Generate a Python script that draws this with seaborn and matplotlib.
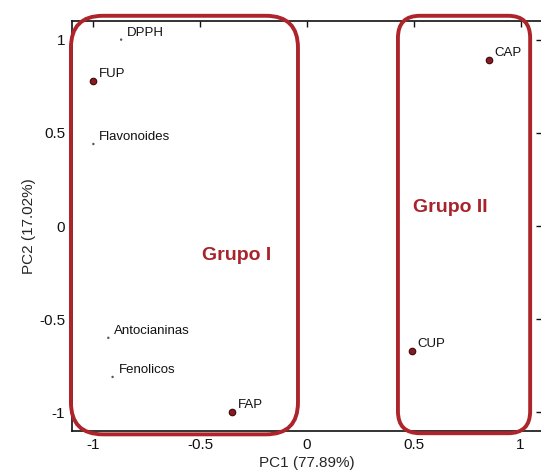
import matplotlib
matplotlib.use("Agg")
import matplotlib.pyplot as plt
from matplotlib.patches import FancyBboxPatch
from matplotlib.transforms import IdentityTransform
import seaborn as sns
import pandas as pd

# ---- data ----
names = ["DPPH", "FUP", "Flavonoides", "Antocianinas", "Fenolicos", "FAP", "CAP", "CUP"]
pc1 = [-0.87, -1.00, -1.00, -0.93, -0.91, -0.35, 0.85, 0.49]
pc2 = [1.00, 0.78, 0.44, -0.60, -0.81, -1.00, 0.89, -0.67]
kind = ["var", "obj", "var", "var", "var", "obj", "obj", "obj"]
ticks = [-1, -0.5, 0, 0.5, 1]
tick_labels = ["-1", "-0.5", "0", "0.5", "1"]
groups = ["Grupo I", "Grupo II"]
group_x = [(-1.105, -0.042), (0.426, 1.045)]
group_y = [(-1.118, 1.128), (-1.112, 1.128)]
group_label_pos = [(-0.33, -0.16), (0.67, 0.10)]

df = pd.DataFrame({"name": names, "pc1": pc1, "pc2": pc2, "kind": kind})

sns.set_style("white")
plt.rcParams["font.family"] = ["Liberation Sans", "DejaVu Sans"]

fig = plt.figure(figsize=(5.41, 4.70), dpi=100)
ax = fig.add_axes([72 / 541, 39 / 470, (541.9 - 72) / 541, (449 - 39) / 470])

sns.scatterplot(data=df[df.kind == "obj"], x="pc1", y="pc2", ax=ax, s=22,
                color="#8a1a1f", edgecolor="#3a0a0a", linewidth=0.8, legend=False, zorder=3)
sns.scatterplot(data=df[df.kind == "var"], x="pc1", y="pc2", ax=ax, s=3,
                color="#555555", edgecolor="none", legend=False, zorder=3)

for n, x, y in zip(names, pc1, pc2):
    ax.annotate(n, (x, y), xytext=(6, 7), textcoords="offset pixels",
                ha="left", va="center", fontsize=9.5, color="#111111")

ax.set_xlim(-1.1, 1.1)
ax.set_ylim(-1.1, 1.1)
ax.set_xticks(ticks)
ax.set_xticklabels(tick_labels)
ax.set_yticks(ticks)
ax.set_yticklabels(tick_labels)
ax.tick_params(direction="in", length=4, width=1, top=True, right=True,
               labelsize=11, colors="#111111", pad=5)
for s in ax.spines.values():
    s.set_color("#111111")
    s.set_linewidth(1.2)
ax.set_xlabel("PC1 (77.89%)", fontsize=11, labelpad=3)
ax.set_ylabel("PC2 (17.02%)", fontsize=11, labelpad=2)
ax.grid(False)

# rounded group boxes in display pixels (isotropic rounding)
for (x0, x1), (y0, y1), r in zip(group_x, group_y, [32, 22]):
    p0 = ax.transData.transform((x0, y0))
    p1 = ax.transData.transform((x1, y1))
    box = FancyBboxPatch((p0[0] + r, p0[1] + r), (p1[0] - p0[0]) - 2 * r, (p1[1] - p0[1]) - 2 * r,
                         boxstyle=f"round,pad={r},rounding_size={r}",
                         transform=IdentityTransform(), fill=False,
                         edgecolor="#ad242b", linewidth=2.8, clip_on=False, zorder=4)
    fig.patches.append(box)
    box.set_figure(fig)

for g, (gx, gy) in zip(groups, group_label_pos):
    ax.text(gx, gy, g, color="#a8232b", fontsize=14, fontweight="bold",
            ha="center", va="center")

fig.savefig("out.png", dpi=100)
